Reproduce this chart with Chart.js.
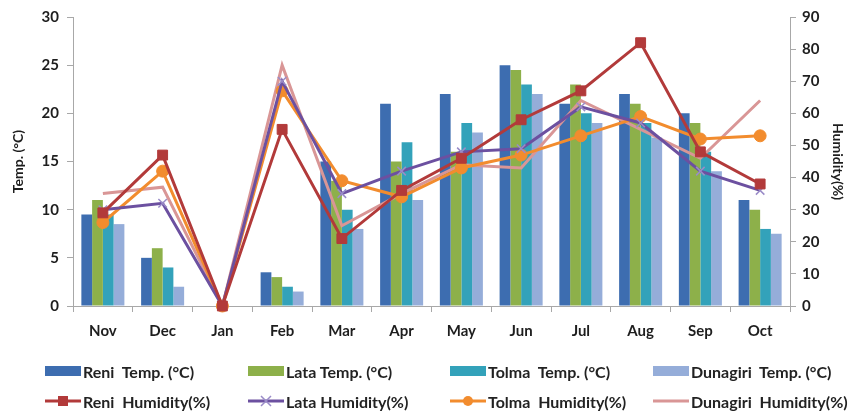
<!DOCTYPE html>
<html>
<head>
<meta charset="utf-8">
<script src="https://cdn.jsdelivr.net/npm/chart.js@4.4.1/dist/chart.umd.min.js"></script>
<style>
  html, body { margin: 0; padding: 0; background: #fff; }
  #wrap { position: relative; width: 850px; height: 414px; overflow: hidden; }
  #c { position: absolute; left: 0; top: 0; }
  #legend { position: absolute; left: 0; top: 0; width: 850px; height: 414px; pointer-events: none;
            font: bold 16px Lato, sans-serif; color: #222; }
  .item { position: absolute; display: flex; align-items: center; white-space: pre; height: 20px; }
  .item svg { margin-right: 2px; }
</style>
</head>
<body>
<div id="wrap">
  <canvas id="c" width="850" height="345"></canvas>
  <div id="legend"></div>
</div>
<script>
// Monthly temperature (°C) and relative humidity (%) at four sites
const months = ['Nov', 'Dec', 'Jan', 'Feb', 'Mar', 'Apr', 'May', 'Jun', 'Jul', 'Aug', 'Sep', 'Oct'];

const reniTemp     = [9.5, 5, 0, 3.5, 15, 21, 22, 25, 21, 22, 20, 11];
const lataTemp     = [11, 6, 0, 3, 13, 15, 16, 24.5, 23, 21, 19, 10];
const tolmaTemp    = [9.5, 4, 0, 2, 10, 17, 19, 23, 20, 19, 16, 8];
const dunagiriTemp = [8.5, 2, 0, 1.5, 8, 11, 18, 22, 19, 17.5, 14, 7.5];

const reniHum     = [29, 47, 0, 55, 21, 36, 46, 58, 67, 82, 48, 38];
const lataHum     = [30, 32, 0, 70, 35, 42, 48, 49, 62, 57, 42, 36];
const tolmaHum    = [26, 42, 0, 67, 39, 34, 43, 47, 53, 59, 52, 53];
const dunagiriHum = [35, 37, 0, 75, 25, 35, 44, 43, 64, 55, 46, 64];

const tempTicks = [0, 5, 10, 15, 20, 25, 30];
const humTicks  = [0, 10, 20, 30, 40, 50, 60, 70, 80, 90];

const legendLabels = [
  'Reni  Temp. (°C)', 'Lata Temp. (°C)', 'Tolma  Temp. (°C)', 'Dunagiri  Temp. (°C)',
  'Reni  Humidity(%)', 'Lata Humidity(%)', 'Tolma  Humidity(%)', 'Dunagiri  Humidity(%)'
];

const C = {
  reniBar: '#3D6DB0', lataBar: '#8DB04A', tolmaBar: '#33A2BA', dunaBar: '#95ADD9',
  reniLine: '#B23A3A', lataLine: '#6C50A0', tolmaLine: '#F28C2E', dunaLine: '#D99696'
};
const axisColor = '#A8A8A8';
const textColor = '#1E1E1E';
const tickFont = { family: 'Lato', size: 15, weight: 'bold' };

function bar(label, data, color) {
  return { type: 'bar', label, data, backgroundColor: color, yAxisID: 'y', order: 2,
           barPercentage: 1, categoryPercentage: 0.72 };
}
function line(label, data, color, style, radius, pointColor) {
  return { type: 'line', label, data, borderColor: color, backgroundColor: pointColor || color,
           pointBorderColor: pointColor || color, borderWidth: 3, tension: 0, yAxisID: 'y1', order: 1,
           pointStyle: style, pointRadius: radius, pointHoverRadius: radius,
           pointBorderWidth: style === 'crossRot' ? 1.5 : 1, clip: false };
}

const chart = new Chart(document.getElementById('c'), {
  data: {
    labels: months,
    datasets: [
      bar(legendLabels[0], reniTemp, C.reniBar),
      bar(legendLabels[1], lataTemp, C.lataBar),
      bar(legendLabels[2], tolmaTemp, C.tolmaBar),
      bar(legendLabels[3], dunagiriTemp, C.dunaBar),
      line(legendLabels[4], reniHum, C.reniLine, 'rect', 7),
      line(legendLabels[5], lataHum, C.lataLine, 'crossRot', 6, '#9A8CC8'),
      line(legendLabels[6], tolmaHum, C.tolmaLine, 'circle', 6),
      line(legendLabels[7], dunagiriHum, C.dunaLine, 'circle', 0)
    ]
  },
  options: {
    responsive: false,
    animation: false,
    layout: { padding: { top: 8, left: 0, right: 0, bottom: 0 } },
    plugins: { legend: { display: false }, tooltip: { enabled: false } },
    scales: {
      x: {
        offset: true,
        grid: { offset: true, drawOnChartArea: false, drawTicks: true, tickLength: 6, color: axisColor },
        border: { color: axisColor },
        ticks: { font: tickFont, color: textColor, padding: 10 },
        afterFit(s) { s.height = 39; }
      },
      y: {
        position: 'left', min: 0, max: 30,
        afterBuildTicks(s) { s.ticks = tempTicks.map(v => ({ value: v })); },
        grid: { drawOnChartArea: false, tickLength: 6, color: axisColor },
        border: { color: axisColor },
        ticks: { font: tickFont, color: textColor, padding: 8 },
        title: { display: true, text: 'Temp. (°C)', color: textColor,
                 font: { family: 'Lato', size: 14, weight: 'bold' }, padding: { top: 10, bottom: 0 } },
        afterFit(s) { s.width = 73; }
      },
      y1: {
        position: 'right', min: 0, max: 90,
        afterBuildTicks(s) { s.ticks = humTicks.map(v => ({ value: v })); },
        grid: { drawOnChartArea: false, tickLength: 6, color: axisColor },
        border: { color: axisColor },
        ticks: { font: tickFont, color: textColor, padding: 6 },
        title: { display: true, text: 'Humidity(%)', color: textColor,
                 font: { family: 'Lato', size: 14, weight: 'bold' }, padding: { top: 4, bottom: 0 } },
        afterFit(s) { s.width = 60; }
      }
    }
  }
});

// Legend laid out as a 4-column grid, built from the chart's datasets
const legendCols = [45, 248, 450, 653];
const legendRows = [361, 391];
const legendEl = document.getElementById('legend');
chart.data.datasets.forEach((ds, i) => {
  const col = i % 4, row = Math.floor(i / 4);
  let svg;
  if (ds.type === 'bar') {
    svg = `<svg width="36" height="14"><rect x="0" y="2" width="36" height="10" fill="${ds.backgroundColor}"/></svg>`;
  } else {
    let marker = '';
    const c = ds.pointBorderColor;
    if (ds.pointRadius > 0) {
      if (ds.pointStyle === 'rect') marker = `<rect x="13" y="2" width="10" height="10" fill="${ds.backgroundColor}"/>`;
      else if (ds.pointStyle === 'circle') marker = `<circle cx="18" cy="7" r="5" fill="${ds.backgroundColor}"/>`;
      else if (ds.pointStyle === 'crossRot') marker = `<path d="M13 2 L23 12 M23 2 L13 12" stroke="${c}" stroke-width="1.5"/>`;
    }
    svg = `<svg width="36" height="14"><line x1="0" y1="7" x2="36" y2="7" stroke="${ds.borderColor}" stroke-width="3"/>${marker}</svg>`;
  }
  const el = document.createElement('div');
  el.className = 'item';
  el.style.left = legendCols[col] + 'px';
  el.style.top = legendRows[row] + 'px';
  el.innerHTML = svg + '<span>' + ds.label + '</span>';
  legendEl.appendChild(el);
});
</script>
</body>
</html>
